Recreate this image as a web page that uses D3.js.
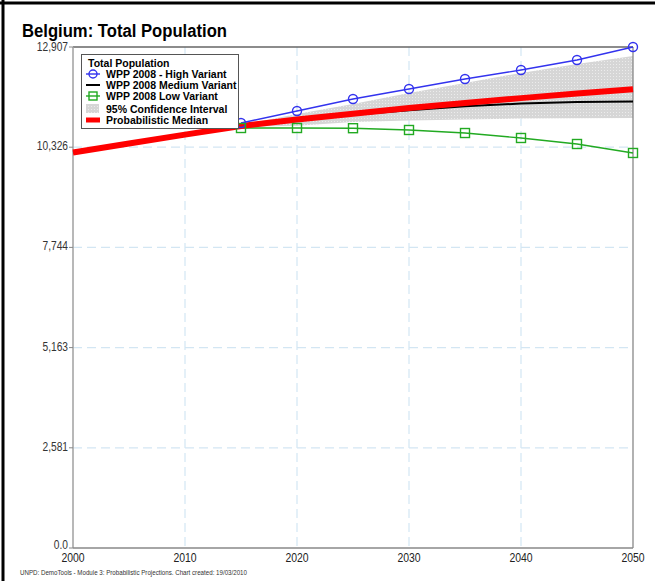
<!DOCTYPE html>
<html><head><meta charset="utf-8">
<script src="https://cdn.jsdelivr.net/npm/d3@7/dist/d3.min.js"></script>
<style>
html,body{margin:0;padding:0;background:#fff;}
svg{display:block;}
text{font-family:"Liberation Sans",Arial,sans-serif;}
</style></head>
<body>
<script>
const years = [2000,2005,2010,2015,2020,2025,2030,2035,2040,2045,2050];
const variantYears = [2015,2020,2025,2030,2035,2040,2045,2050];
const highVariant = [10949,11258,11567,11825,12083,12314,12572,12907];
const lowVariant  = [10820,10820,10815,10769,10691,10563,10408,10177];
const mediumVariant = [10190,10420,10650,10870,11030,11160,11280,11380,11450,11490,11500];
const probMedian    = [10190,10420,10650,10870,11040,11190,11335,11465,11590,11710,11820];
const ciYears = [2010,2015,2020,2025,2030,2035,2040,2045,2050];
const ciUpper = [10650,10900,11180,11440,11720,11980,12240,12470,12675];
const ciLower = [10650,10850,10880,10975,11015,11040,11065,11072,11078];
const yTicks = [0,2581.4,5162.8,7744.2,10325.6,12907];
const yTickLabels = ["0.0","2,581","5,163","7,744","10,326","12,907"];
const xTicks = [2000,2010,2020,2030,2040,2050];
const legendItems = ["WPP 2008 - High Variant","WPP 2008 Medium Variant","WPP 2008 Low Variant","95% Confidence Interval","Probabilistic Median"];

const W=655,H=581;
const svg=d3.select("body").append("svg").attr("width",W).attr("height",H);
const m={l:73,r:633,t:47,b:548};
const x=d3.scaleLinear().domain([2000,2050]).range([m.l,m.r]);
const y=d3.scaleLinear().domain([0,12907]).range([m.b,m.t]);

function squeeze(sel,f){
  sel.each(function(){const w=this.getComputedTextLength();
    d3.select(this).attr("textLength",w*f).attr("lengthAdjust","spacingAndGlyphs");});
}

// pattern for CI
const defs=svg.append("defs");
const pat=defs.append("pattern").attr("id","dots").attr("width",3).attr("height",3).attr("patternUnits","userSpaceOnUse");
pat.append("rect").attr("width",3).attr("height",3).attr("fill","#d6d6d6");
pat.append("rect").attr("x",1).attr("y",1).attr("width",1).attr("height",1).attr("fill","#ececec");

// frame
svg.append("line").attr("x1",0).attr("x2",W).attr("y1",3).attr("y2",3).attr("stroke","#000").attr("stroke-width",3);
svg.append("line").attr("x1",3).attr("x2",3).attr("y1",0).attr("y2",H).attr("stroke","#000").attr("stroke-width",3);

// title
svg.append("text").attr("x",22).attr("y",37).attr("font-size",17.5).attr("font-weight","bold").attr("fill","#000")
  .text("Belgium: Total Population").attr("textLength",205).attr("lengthAdjust","spacingAndGlyphs");

// grid
const g=svg.append("g");
g.selectAll(".vg").data(xTicks.slice(1,-1)).enter().append("line")
  .attr("x1",d=>x(d)).attr("x2",d=>x(d)).attr("y1",m.t).attr("y2",m.b)
  .attr("stroke","#d3e6f3").attr("stroke-width",1.2).attr("stroke-dasharray","9,5");
g.selectAll(".hg").data(yTicks.slice(1,-1)).enter().append("line")
  .attr("x1",m.l).attr("x2",m.r).attr("y1",d=>y(d)).attr("y2",d=>y(d))
  .attr("stroke","#d3e6f3").attr("stroke-width",1.2).attr("stroke-dasharray","9,5");

// CI band
const ciData=ciYears.map((yr,i)=>({yr,lo:ciLower[i],hi:ciUpper[i]}));
svg.append("path").datum(ciData).attr("fill","url(#dots)")
  .attr("d",d3.area().x(d=>x(d.yr)).y0(d=>y(d.lo)).y1(d=>y(d.hi)));

// plot border
svg.append("line").attr("x1",m.l).attr("x2",m.r).attr("y1",m.t).attr("y2",m.t).attr("stroke","#666").attr("stroke-width",1.3);
svg.append("line").attr("x1",m.r).attr("x2",m.r).attr("y1",m.t).attr("y2",m.b).attr("stroke","#888").attr("stroke-width",1.3);
svg.append("line").attr("x1",m.l).attr("x2",m.l).attr("y1",m.t).attr("y2",m.b).attr("stroke","#a0a0a0").attr("stroke-width",1.5);
svg.append("line").attr("x1",m.l).attr("x2",m.r).attr("y1",m.b).attr("y2",m.b).attr("stroke","#888").attr("stroke-width",1.3);

// y ticks
const yt=svg.append("g");
yt.selectAll("line").data(yTicks).enter().append("line")
  .attr("x1",m.l-4).attr("x2",m.l).attr("y1",d=>y(d)).attr("y2",d=>y(d)).attr("stroke","#888");
yt.selectAll("text").data(yTicks).enter().append("text")
  .attr("x",m.l-5).attr("y",(d,i)=>y(d)+(i===0?1:(i===5?4:3))).attr("text-anchor","end").attr("font-size",12).attr("fill","#333")
  .text((d,i)=>yTickLabels[i]).call(squeeze,0.85);
// x ticks
svg.append("g").selectAll("text").data(xTicks).enter().append("text")
  .attr("x",d=>x(d)).attr("y",m.b+14).attr("text-anchor","middle").attr("font-size",12).attr("fill","#222").text(d=>d)
  .call(squeeze,0.87);

const line=d3.line();
// low variant
const lowPts=variantYears.map((yr,i)=>[x(yr),y(lowVariant[i])]);
svg.append("path").attr("d",line(lowPts)).attr("fill","none").attr("stroke","#22aa22").attr("stroke-width",1.4);
// medium
const medPts=years.map((yr,i)=>[x(yr),y(mediumVariant[i])]);
svg.append("path").attr("d",line(medPts)).attr("fill","none").attr("stroke","#000").attr("stroke-width",2);
// median
const mdPts=years.map((yr,i)=>[x(yr),y(probMedian[i])]);
svg.append("path").attr("d",line(mdPts)).attr("fill","none").attr("stroke","#ff0000").attr("stroke-width",6);
// high
const hiPts=variantYears.map((yr,i)=>[x(yr),y(highVariant[i])]);
svg.append("path").attr("d",line(hiPts)).attr("fill","none").attr("stroke","#3333ee").attr("stroke-width",1.4);
svg.append("g").selectAll("circle").data(hiPts).enter().append("circle")
  .attr("cx",d=>d[0]).attr("cy",d=>d[1]).attr("r",4.5).attr("fill","none").attr("stroke","#3333ee").attr("stroke-width",1.4);
svg.append("g").selectAll("rect").data(lowPts).enter().append("rect")
  .attr("x",d=>d[0]-4.5).attr("y",d=>d[1]-4.5).attr("width",9).attr("height",9).attr("fill","none").attr("stroke","#22aa22").attr("stroke-width",1.4);

// legend
const lg=svg.append("g");
lg.append("rect").attr("x",81.5).attr("y",54.5).attr("width",157).attr("height",74).attr("fill","#fff").attr("stroke","#555").attr("stroke-width",1);
lg.append("text").attr("x",88).attr("y",67).attr("font-size",10.5).attr("font-weight","bold").text("Total Population");
const ly=[74,85,96,109,120];
lg.selectAll(".lt").data(legendItems).enter().append("text")
  .attr("x",106).attr("y",(d,i)=>ly[i]+4).attr("font-size",10.5).attr("font-weight","bold").text(d=>d);
// symbols
lg.append("line").attr("x1",86).attr("x2",100).attr("y1",ly[0]).attr("y2",ly[0]).attr("stroke","#3333ee").attr("stroke-width",1.4);
lg.append("circle").attr("cx",93).attr("cy",ly[0]).attr("r",4).attr("fill","none").attr("stroke","#3333ee").attr("stroke-width",1.4);
lg.append("line").attr("x1",86).attr("x2",100).attr("y1",ly[1]).attr("y2",ly[1]).attr("stroke","#000").attr("stroke-width",2);
lg.append("line").attr("x1",86).attr("x2",100).attr("y1",ly[2]).attr("y2",ly[2]).attr("stroke","#22aa22").attr("stroke-width",1.4);
lg.append("rect").attr("x",89).attr("y",ly[2]-4).attr("width",8).attr("height",8).attr("fill","none").attr("stroke","#22aa22").attr("stroke-width",1.4);
lg.append("rect").attr("x",86).attr("y",ly[3]-5).attr("width",13).attr("height",9).attr("fill","url(#dots)");
lg.append("line").attr("x1",86).attr("x2",100).attr("y1",ly[4]).attr("y2",ly[4]).attr("stroke","#ff0000").attr("stroke-width",5);

// footer
svg.append("text").attr("x",20).attr("y",575).attr("font-size",8).attr("fill","#333")
  .text("UNPD: DemoTools - Module 3: Probabilistic Projections. Chart created: 19/03/2010")
  .attr("textLength",227).attr("lengthAdjust","spacingAndGlyphs");
</script>
</body></html>
